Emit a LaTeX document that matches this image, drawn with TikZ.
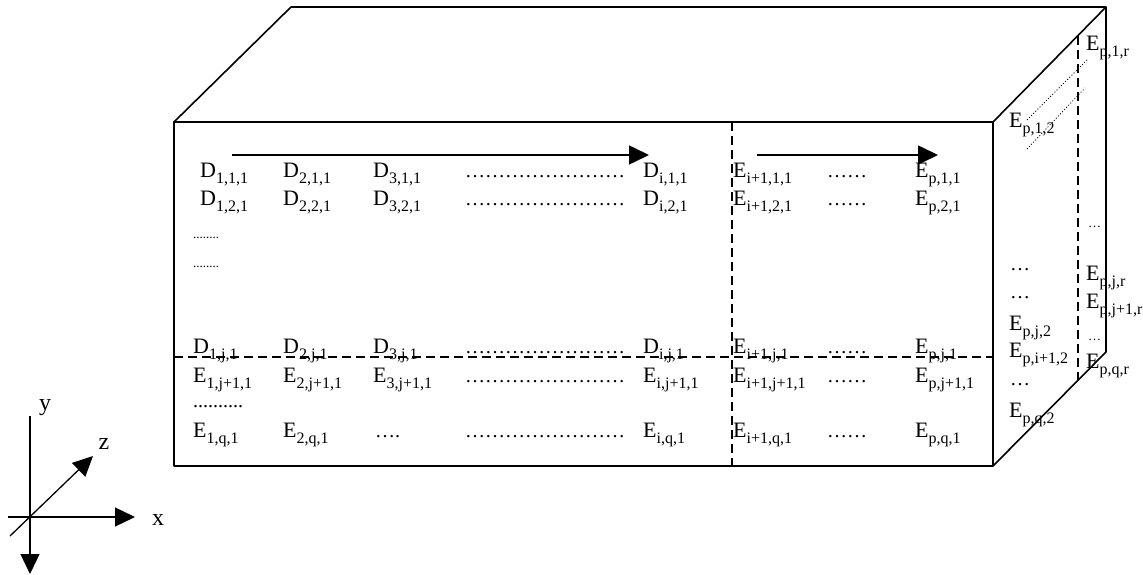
\documentclass[tikz,border=0pt]{standalone}
\usepackage{fontspec}
\setmainfont{Liberation Serif}
\usetikzlibrary{arrows.meta}
% entry with a lowered, smaller index list
\newcommand{\ent}[2]{#1\raisebox{-6pt}{\fontsize{16}{16}\selectfont #2}}
\newcommand{\longdots}{\ldots\ldots\ldots\ldots\ldots\ldots\ldots\ldots}
\begin{document}
\begin{tikzpicture}[x=1pt,y=-1pt,
  cell/.style={anchor=base west, inner sep=0pt, font=\fontsize{22}{24}\selectfont},
  dotrun/.style={anchor=base west, inner sep=0pt, font=\fontsize{20}{24}\selectfont},
  tiny/.style={anchor=base west, inner sep=0pt, font=\fontsize{13}{14}\selectfont},
  edge/.style={line width=1.6pt},
  cut/.style={line width=1.3pt, dash pattern=on 9pt off 5pt},
  fine/.style={line width=0.8pt, dash pattern=on 1pt off 2pt},
  flow/.style={line width=1.6pt, -{Triangle[length=20pt,width=19pt]}},
  axis/.style={line width=1.3pt},
  axlbl/.style={inner sep=0pt, font=\fontsize{24}{26}\selectfont}]
\useasboundingbox (0,0) rectangle (1143,575);

% block corners
\coordinate (A) at (174,122);  % front top-left
\coordinate (B) at (993,122);  % front top-right
\coordinate (C) at (993,466);  % front bottom-right
\coordinate (D) at (174,466);  % front bottom-left
\coordinate (E) at (291,7);    % back top-left
\coordinate (F) at (1106,7);   % back top-right
\coordinate (G) at (1106,352); % back bottom-right

% partition lines
\draw[cut] (732,122) -- (732,466);
\draw[cut] (174,357) -- (993,357);
\draw[cut] (1078,36) -- (1078,380);
\draw[fine] (1027,120) -- (1087,60);
\draw[fine] (1027,149) -- (1085,88);

% block outline
\draw[edge, line join=round] (A) -- (B) -- (C) -- (D) -- cycle;
\draw[edge, line join=round] (A) -- (E) -- (F) -- (B);
\draw[edge, line join=round] (F) -- (G) -- (C);

% front face entries
\node[cell] (d111) at (200,177) {\ent{D}{1,1,1}};
\node[cell] (d211) at (283,177) {\ent{D}{2,1,1}};
\node[cell] (d311) at (373,177) {\ent{D}{3,1,1}};
\node[dotrun] (r1dots) at (465,177) {\longdots};
\node[cell] (di11) at (643,177) {\ent{D}{i,1,1}};
\node[cell] (ei111) at (733,177) {\ent{E}{i+1,1,1}};
\node[dotrun] (r1dots2) at (827,177) {\ldots\ldots};
\node[cell] (ep11) at (915,177) {\ent{E}{p,1,1}};

\node[cell] (d121) at (200,205) {\ent{D}{1,2,1}};
\node[cell] (d221) at (283,205) {\ent{D}{2,2,1}};
\node[cell] (d321) at (373,205) {\ent{D}{3,2,1}};
\node[dotrun] (r2dots) at (465,205) {\longdots};
\node[cell] (di21) at (643,205) {\ent{D}{i,2,1}};
\node[cell] (ei121) at (733,205) {\ent{E}{i+1,2,1}};
\node[dotrun] (r2dots2) at (827,205) {\ldots\ldots};
\node[cell] (ep21) at (915,205) {\ent{E}{p,2,1}};

\node[tiny] (gap1) at (193,238) {........};
\node[tiny] (gap2) at (193,267) {........};

\node[cell] (d1j1) at (193,353) {\ent{D}{1,j,1}};
\node[cell] (d2j1) at (283,353) {\ent{D}{2,j,1}};
\node[cell] (d3j1) at (373,353) {\ent{D}{3,j,1}};
\node[dotrun] (rjdots) at (465,353) {\longdots};
\node[cell] (dij1) at (643,353) {\ent{D}{i,j,1}};
\node[cell] (ei1j1) at (733,353) {\ent{E}{i+1,j,1}};
\node[dotrun] (rjdots2) at (827,353) {\ldots\ldots};
\node[cell] (epj1) at (915,353) {\ent{E}{p,j,1}};

\node[cell] (e1j11) at (193,382) {\ent{E}{1,j+1,1}};
\node[cell] (e2j11) at (283,382) {\ent{E}{2,j+1,1}};
\node[cell] (e3j11) at (373,382) {\ent{E}{3,j+1,1}};
\node[dotrun] (rj1dots) at (465,382) {\longdots};
\node[cell] (eij11) at (643,382) {\ent{E}{i,j+1,1}};
\node[cell] (ei1j11) at (733,382) {\ent{E}{i+1,j+1,1}};
\node[dotrun] (rj1dots2) at (827,382) {\ldots\ldots};
\node[cell] (epj11) at (915,382) {\ent{E}{p,j+1,1}};

\node[dotrun] (gap3) at (193,407) {..........};

\node[cell] (e1q1) at (193,437) {\ent{E}{1,q,1}};
\node[cell] (e2q1) at (283,437) {\ent{E}{2,q,1}};
\node[dotrun] (e3q1) at (375,437) {\ldots.};
\node[dotrun] (rqdots) at (465,437) {\longdots};
\node[cell] (eiq1) at (643,437) {\ent{E}{i,q,1}};
\node[cell] (ei1q1) at (733,437) {\ent{E}{i+1,q,1}};
\node[dotrun] (rqdots2) at (827,437) {\ldots\ldots};
\node[cell] (epq1) at (915,437) {\ent{E}{p,q,1}};

% side face entries
\node[cell] (ep1r) at (1086,51) {\ent{E}{p,1,r}};
\node[cell] (ep12) at (1009,128) {\ent{E}{p,1,2}};
\node[tiny] (sdots1) at (1088,227) {\ldots};
\node[dotrun] (sdots2) at (1010,270) {\ldots};
\node[cell] (epjr) at (1086,280) {\ent{E}{p,j,r}};
\node[dotrun] (sdots3) at (1010,298) {\ldots};
\node[cell] (epj1r) at (1086,308) {\ent{E}{p,j+1,r}};
\node[cell] (epj2) at (1009,330) {\ent{E}{p,j,2}};
\node[tiny] (sdots4) at (1088,340) {\ldots};
\node[cell] (epi12) at (1009,357) {\ent{E}{p,i+1,2}};
\node[cell] (epqr) at (1086,368) {\ent{E}{p,q,r}};
\node[dotrun] (sdots5) at (1010,385) {\ldots};
\node[cell] (epq2) at (1009,417) {\ent{E}{p,q,2}};

% traversal arrows
\coordinate (a1s) at (232,155);
\coordinate (a1e) at (649,155);
\coordinate (a2s) at (757,155);
\coordinate (a2e) at (938,155);
\draw[flow] (a1s) -- (a1e);
\draw[flow] (a2s) -- (a2e);

% axes
\coordinate (O) at (30,517);
\coordinate (ytop) at (30,416);
\coordinate (ybot) at (30,574);
\coordinate (xl) at (8,517);
\coordinate (xr) at (135,517);
\coordinate (zl) at (10,536);
\coordinate (zr) at (93,456);
\draw[axis] (ytop) -- (O);
\draw[axis, -{Triangle[length=20pt,width=19pt]}] (O) -- (ybot);
\draw[axis, -{Triangle[length=20pt,width=19pt]}] (xl) -- (xr);
\draw[axis, -{Triangle[length=20pt,width=19pt]}] (zl) -- (zr);
\node[axlbl] (ylab) at (45,408) {y};
\node[axlbl] (zlab) at (104,444) {z};
\node[axlbl] (xlab) at (158,520) {x};
\end{tikzpicture}
\end{document}
